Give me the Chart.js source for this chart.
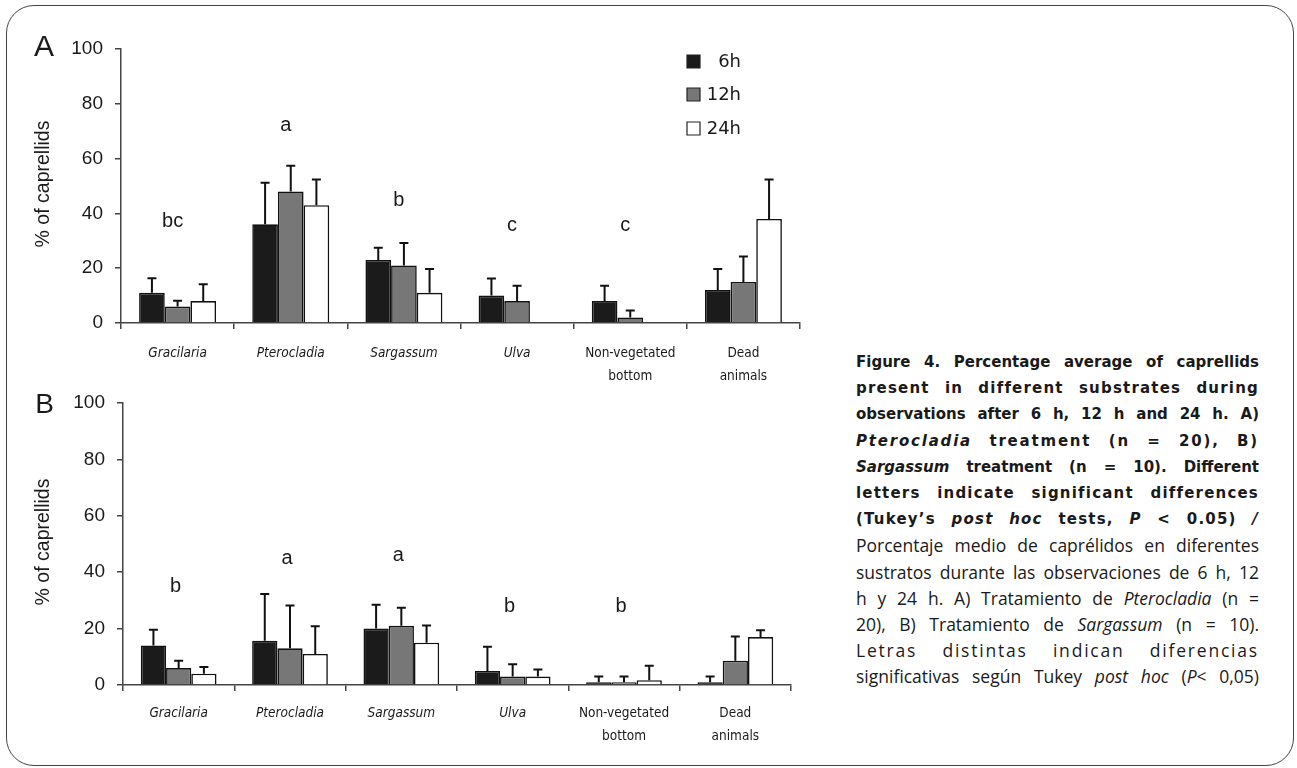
<!DOCTYPE html>
<html>
<head>
<meta charset="utf-8">
<script src="https://cdn.jsdelivr.net/npm/chart.js@4.4.1/dist/chart.umd.min.js"></script>
<style>
  html, body { margin:0; padding:0; background:#fff; width:1297px; height:768px; overflow:hidden; }
  #frame { position:absolute; left:6px; top:5px; width:1288px; height:761px; border:1.5px solid #444; border-radius:28px; box-sizing:border-box; }
  canvas { position:absolute; }
  #cap { position:absolute; left:856px; top:349px; width:403px; color:#1a1a1a; }
  #cap div { height:26.2px; line-height:26.2px; text-align:justify; text-align-last:justify; white-space:normal; overflow:visible; }
  #cap .en { font-family:"DejaVu Sans"; font-weight:bold; font-size:15px; }
  #cap .es { font-family:"Open Sans"; font-size:17.5px; }
  #cap .ls1 { letter-spacing:1.2px; }
  #cap .ls2 { letter-spacing:1.8px; }
</style>
</head>
<body>
<div id="frame"></div>
<canvas id="cA" width="790" height="360" style="left:30px;top:30px;"></canvas>
<canvas id="cB" width="790" height="375" style="left:30px;top:385px;"></canvas>
<div id="cap">
  <div class="en">Figure 4. Percentage average of caprellids</div>
  <div class="en ls1">present in different substrates during</div>
  <div class="en">observations after 6 h, 12 h and 24 h. A)</div>
  <div class="en ls2"><i>Pterocladia</i> treatment (n = 20), B)</div>
  <div class="en"><i>Sargassum</i> treatment (n = 10). Different</div>
  <div class="en ls1">letters indicate significant differences</div>
  <div class="en ls1">(Tukey’s <i>post hoc</i> tests, <i>P</i> &lt; 0.05) <i>/</i></div>
  <div class="es">Porcentaje medio de caprélidos en diferentes</div>
  <div class="es">sustratos durante las observaciones de 6 h, 12</div>
  <div class="es">h y 24 h. A) Tratamiento de <i>Pterocladia</i> (n =</div>
  <div class="es">20), B) Tratamiento de <i>Sargassum</i> (n = 10).</div>
  <div class="es ls2">Letras distintas indican diferencias</div>
  <div class="es">significativas según Tukey <i>post hoc</i> (<i>P</i>&lt; 0,05)</div>
</div>
<script>
// ---- data ----
const categories = [["Gracilaria"], ["Pterocladia"], ["Sargassum"], ["Ulva"], ["Non-vegetated", "bottom"], ["Dead", "animals"]];
const italicCats = [true, true, true, true, false, false];
const seriesNames = ["6h", "12h", "24h"];
const yTicks = [0, 20, 40, 60, 80, 100];

// Panel A (Pterocladia treatment)
const a6   = [11, 36, 23, 10, 8, 12];
const a6sd = [5.3, 15.2, 4.5, 6.2, 5.6, 7.7];
const a12   = [6, 48, 21, 8, 2, 15];
const a12sd = [2.1, 9.4, 8.2, 5.6, 2.6, 9.3];
const a24   = [8, 43, 11, null, null, 38];
const a24sd = [6.1, 9.4, 8.7, null, null, 14.4];
const lettersA  = ["bc", "a", "b", "c", "c", ""];
const lettersAy = [37, 72, 44.6, 35.5, 35.5, null];

// Panel B (Sargassum treatment)
const b6   = [14, 15.7, 20, 5, 1, 1];
const b6sd = [5.6, 16.6, 8.5, 8.6, 2, 2];
const b12   = [6, 13, 21, 3, 1, 8.6];
const b12sd = [2.6, 15.2, 6.4, 4.4, 2, 8.6];
const b24   = [4, 11, 15, 3, 1.7, 17];
const b24sd = [2.4, 9.8, 6.1, 2.5, 5.1, 2.4];
const lettersB  = ["b", "a", "a", "b", "b", ""];
const lettersBy = [35, 44.8, 46, 27.7, 27.9, null];

// ---- styles ----
const fills = ["#1b1b1b", "#777777", "#ffffff"];
const INK = "#1a1a1a";

function hasFont(name) {
  const c = document.createElement('canvas').getContext('2d');
  const s = "Non-vegetated bottom mmmwwwiii";
  c.font = "40px monospace"; const w0 = c.measureText(s).width;
  c.font = "40px '" + name + "', monospace"; const w1 = c.measureText(s).width;
  return Math.abs(w0 - w1) > 0.5;
}
let xFam = "'Open Sans'", xSize = 13;
if (hasFont("Liberation Sans Narrow")) { xFam = "'Liberation Sans Narrow'"; xSize = 15.5; }
else if (hasFont("DejaVu Sans Condensed")) { xFam = "'DejaVu Sans Condensed'"; xSize = 13.5; }

const annot = {
  id: 'annot',
  afterDatasetsDraw(chart, args, o) {
    const ctx = chart.ctx, ys = chart.scales.y, xs = chart.scales.x;
    ctx.save();
    ctx.strokeStyle = "#111"; ctx.lineWidth = 2;
    chart.data.datasets.forEach((ds, di) => {
      const meta = chart.getDatasetMeta(di);
      meta.data.forEach((bar, i) => {
        const v = ds.data[i], sd = o.sds[di][i];
        if (v == null || sd == null) return;
        const yt = ys.getPixelForValue(v), ye = ys.getPixelForValue(v + sd);
        ctx.beginPath();
        ctx.moveTo(bar.x, yt); ctx.lineTo(bar.x, ye);
        ctx.moveTo(bar.x - 4.5, ye); ctx.lineTo(bar.x + 4.5, ye);
        ctx.stroke();
      });
    });
    ctx.fillStyle = INK;
    ctx.font = "20px 'Liberation Sans'";
    ctx.textAlign = "center"; ctx.textBaseline = "middle";
    o.letters.forEach((t, i) => {
      if (!t) return;
      ctx.fillText(t, xs.getPixelForValue(i) + o.letterDx, ys.getPixelForValue(o.lettersY[i]));
    });
    ctx.restore();
  },
  afterDraw(chart, args, o) {
    const ctx = chart.ctx, ca = chart.chartArea;
    ctx.save();
    ctx.fillStyle = INK;
    ctx.font = "19.5px 'Liberation Sans'";
    ctx.textAlign = "center"; ctx.textBaseline = "middle";
    ctx.translate(14, (ca.top + ca.bottom) / 2 - 2);
    ctx.rotate(-Math.PI / 2);
    ctx.fillText("% of caprellids", 0, 0);
    ctx.restore();
    ctx.save();
    ctx.fillStyle = INK;
    ctx.font = o.panelFont;
    ctx.textAlign = "center"; ctx.textBaseline = "middle";
    ctx.fillText(o.panel, o.panelX, o.panelY);
    if (o.legend) {
      const lx = 657, ly = [25, 58, 92];
      ctx.font = "18px 'DejaVu Sans'";
      ctx.textAlign = "right";
      seriesNames.forEach((n, i) => {
        ctx.fillStyle = fills[i];
        ctx.strokeStyle = "#222"; ctx.lineWidth = 1.2;
        ctx.beginPath();
        ctx.rect(lx, ly[i], 13, 13);
        ctx.fill(); ctx.stroke();
        ctx.fillStyle = INK;
        ctx.fillText(n, 711, ly[i] + 7);
      });
    }
    ctx.restore();
  }
};

function makeChart(id, vals, sds, letters, lettersY, cfg) {
  const datasets = vals.map((d, i) => ({
    label: seriesNames[i], data: d,
    backgroundColor: fills[i], borderColor: "#111", borderWidth: 1.6,
    barPercentage: 1.0, categoryPercentage: 0.68
  }));
  return new Chart(document.getElementById(id), {
    type: 'bar',
    data: { labels: categories, datasets },
    plugins: [annot],
    options: {
      responsive: false, animation: false, devicePixelRatio: 1,
      layout: { padding: { top: cfg.padTop, right: cfg.padRight, left: 0, bottom: 0 } },
      plugins: {
        legend: { display: false }, tooltip: { enabled: false },
        annot: { sds, letters, lettersY, letterDx: cfg.letterDx, panel: cfg.panel, panelX: cfg.panelX, panelY: cfg.panelY, panelFont: cfg.panelFont, legend: cfg.legend }
      },
      scales: {
        x: {
          grid: { display: true, drawOnChartArea: false, drawTicks: true, tickLength: 6, color: "#444", lineWidth: 1.5, offset: true },
          border: { display: true, color: "#444", width: 1.5 },
          ticks: {
            color: INK, padding: cfg.xPad, maxRotation: 0, autoSkip: false,
            font: (c) => ({ family: xFam, size: xSize, lineHeight: 23 / xSize, style: italicCats[c.index] ? 'italic' : 'normal' })
          },
          afterFit(s) { s.height = cfg.xH; s.paddingLeft = 0; s.paddingRight = 0; }
        },
        y: {
          min: 0, max: 100,
          afterBuildTicks(s) { s.ticks = yTicks.map(v => ({ value: v })); },
          grid: { display: true, drawOnChartArea: false, drawTicks: true, tickLength: 6, color: "#444", lineWidth: 1.5 },
          border: { display: true, color: "#444", width: 1.5 },
          ticks: { color: INK, padding: 12, font: { family: "'Liberation Sans'", size: 19 } },
          afterFit(s) { s.width = cfg.yW; s.paddingTop = 0; s.paddingBottom = 0; }
        }
      }
    }
  });
}

makeChart('cA', [a6, a12, a24], [a6sd, a12sd, a24sd], lettersA, lettersAy,
  { padTop: 19, padRight: 20, yW: 91, xH: 67, xPad: 13, letterDx: -5, panel: "A", panelX: 14, panelY: 17.5, panelFont: "30px 'Liberation Sans'", legend: true });
makeChart('cB', [b6, b12, b24], [b6sd, b12sd, b24sd], lettersB, lettersBy,
  { padTop: 18, padRight: 29, yW: 93, xH: 75, xPad: 10.5, letterDx: -3, panel: "B", panelX: 14.5, panelY: 20.5, panelFont: "28px 'Liberation Sans'", legend: false });
</script>
</body>
</html>
